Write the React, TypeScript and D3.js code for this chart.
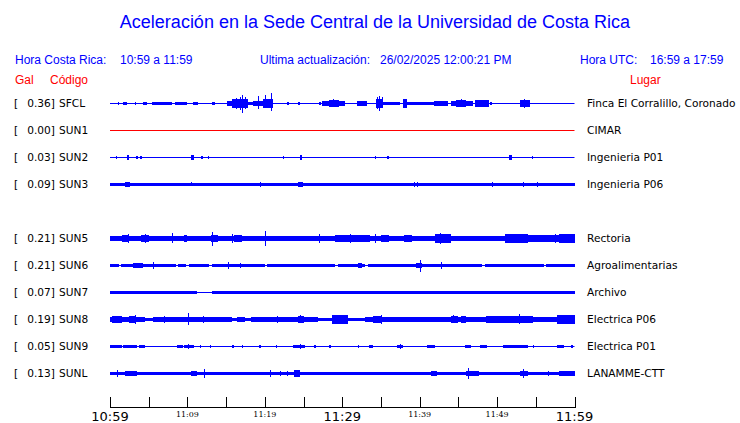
import React from "react";
import * as d3 from "d3";

const W = 740;
const H = 423;

const codes = ["SFCL", "SUN1", "SUN2", "SUN3", "SUN5", "SUN6", "SUN7", "SUN8", "SUN9", "SUNL"];
const peakGal = [0.36, 0.0, 0.03, 0.09, 0.21, 0.21, 0.07, 0.19, 0.05, 0.13];
const places = [
  "Finca El Corralillo, Coronado",
  "CIMAR",
  "Ingenieria P01",
  "Ingenieria P06",
  "Rectoria",
  "Agroalimentarias",
  "Archivo",
  "Electrica P06",
  "Electrica P01",
  "LANAMME-CTT",
];
const rowSlot = [0, 1, 2, 3, 5, 6, 7, 8, 9, 10];
const traceColor = ["blue", "red", "blue", "blue", "blue", "blue", "blue", "blue", "blue", "blue"];

// envelope pieces: [startMinute, endMinute, halfAmplitude]
const segSFCL = [
  [1.0, 1.2, 1.5], [1.7, 2.2, 1.5], [3.2, 3.4, 1.2], [4.3, 4.8, 1.2], [5.4, 8.0, 1.5], [6.5, 7.2, 2],
  [8.4, 10.0, 2], [10.7, 11.4, 1.5], [13.2, 13.6, 1.2], [14.2, 14.4, 1], [15.1, 15.8, 3], [15.8, 17.8, 5],
  [17.8, 18.5, 2], [18.5, 19.7, 3], [19.7, 21.0, 4.5], [22.9, 23.1, 1.2], [24.3, 24.5, 1.2], [27.0, 27.2, 1.2],
  [27.4, 28.3, 2.5], [28.3, 29.6, 3.5], [29.6, 30.4, 3], [31.9, 33.2, 3], [33.6, 33.8, 1], [34.3, 35.3, 5],
  [35.3, 37.5, 2], [37.8, 38.4, 4.5], [38.4, 41.8, 2], [41.8, 43.6, 3], [44.0, 44.7, 2.5], [44.7, 46.0, 4],
  [46.0, 46.9, 2.5], [47.2, 48.9, 4], [49.1, 49.3, 1.5], [53.0, 54.3, 4], [55.0, 55.2, 1], [56.9, 57.1, 1],
  [57.5, 57.7, 1], [58.2, 58.4, 1],
];
const segSUN1: number[][] = [];
const segSUN2 = [
  [0.8, 0.9, 1.5], [2.2, 2.5, 2.5], [3.4, 3.6, 1.5], [3.9, 4.1, 1.5], [10.5, 10.8, 2.5], [11.8, 12.0, 1.5],
  [12.6, 12.8, 1.5], [22.3, 22.5, 1.5], [24.5, 24.8, 2.5], [34.2, 34.4, 1.5], [35.8, 36.0, 1.5],
  [51.5, 51.9, 2.5], [54.5, 54.7, 1.5],
];
const segSUN3 = [[0, 60, 1.8], [2.0, 2.6, 2.3], [24.3, 24.9, 2.4]];
const segSUN5 = [
  [0, 8, 3.3], [8, 13, 2.7], [13, 14, 4], [14, 20, 3.3], [20, 29, 2.7], [29, 33.6, 4], [33.6, 42, 3.3],
  [42, 44, 4.5], [44, 51, 3], [51, 54, 4.5], [54, 58, 3.5], [58, 60, 4.5],
  [1.5, 2.5, 4], [4, 5, 4], [9.5, 10, 3.5], [16, 17, 4], [23, 24, 3.3], [26, 27, 3.3], [35, 36, 4], [38, 39, 4],
];
const segSUN6 = [
  [0, 1.2, 1.2], [1.4, 3, 1.2], [3, 4.3, 2.5], [4.3, 8.5, 1.2], [8.8, 9.8, 1.2], [10.2, 12.8, 1.2],
  [13.2, 20, 1.3], [20.3, 29, 1.2], [29.4, 33, 1.3], [32, 32.6, 2.5], [33.3, 39.5, 1.3], [39.5, 40.3, 2.5],
  [40.3, 48, 1.3], [48.4, 56, 1.3], [56.3, 60, 1.5], [58.5, 60, 2],
];
const segSUN7 = [[0, 11.2, 1.2], [13.2, 60, 1.2]];
const segSUN8 = [
  [0, 4.5, 3], [4.5, 5.6, 1.2], [5.6, 10, 2.5], [10, 15.8, 3], [15.8, 16.4, 1.5], [16.4, 17.4, 2.7],
  [17.4, 18.2, 1.5], [18.2, 26.9, 2.7], [26.9, 28.7, 1.5], [28.7, 30.8, 4.5], [30.8, 33, 1.5], [33, 38.4, 3],
  [38.4, 45.3, 2.5], [45.3, 46, 3.5], [46, 48.6, 2.5], [48.6, 54.7, 3.5], [54.7, 57.7, 2.5], [57.7, 60, 4.5],
  [0.3, 1.5, 3.7], [2.5, 3.3, 3.7], [9, 10.3, 3.3], [21, 22, 3.3], [24.3, 25, 3.7], [34, 35, 3.7], [44, 45, 3.5],
];
const segSUN9 = [
  [0, 1.5, 1.5], [1.7, 3.5, 1.5], [3.7, 4.5, 1.5], [8.7, 9.4, 1.5], [9.5, 10.8, 1.8], [11.6, 11.8, 1.5],
  [12.9, 13.1, 1.5], [15.8, 16, 1.5], [17, 17.2, 1.5], [19.3, 19.5, 1.5], [21.4, 21.6, 1.5], [23.7, 25.2, 2],
  [26.4, 26.6, 1.5], [28.3, 28.5, 1.5], [32, 32.2, 1.5], [33.5, 34, 1.5], [37.1, 37.9, 2], [41, 42, 1.5],
  [45.8, 46.6, 1.5], [47.8, 48.7, 2], [50.8, 54, 1.5], [54.6, 54.8, 1.5], [57.8, 58.6, 1.5], [59.6, 59.8, 1.5],
];
const segSUNL = [
  [0, 60, 2], [2, 3.5, 2.8], [10.5, 11.2, 2.8], [23.8, 24.5, 3.5], [41.5, 42.2, 2.8], [46, 47.5, 2.8],
  [53, 54, 2.8], [58, 60, 2.5],
];

// spikes: [minute, up, down]
const spkSFCL = [
  [16.3, 6, 6], [16.8, 7, 7], [17.1, 9, 10], [17.5, 7, 6], [19.1, 8, 6], [20.0, 9, 5], [20.8, 12, 8],
  [28.8, 5, 4], [34.5, 7, 6], [34.7, 8, 8], [35.1, 7, 5], [37.9, 5, 5], [45.3, 5, 4], [53.5, 5, 5],
];
const spkSUN1: number[][] = [];
const spkSUN2: number[][] = [];
const spkSUN3 = [
  [2.3, 3, 3], [10.5, 2.5, 2], [11.8, 2.2, 2], [19.4, 2.3, 2.3], [21.5, 2.2, 2], [24.6, 3.2, 3.2],
  [39.3, 3, 2.5], [39.6, 2.8, 2.8], [49.4, 2.6, 2.6], [53.3, 3, 2.5], [55.2, 2.6, 2.4],
];
const spkSUN5 = [
  [2.3, 5, 5], [4.5, 4.5, 4.5], [8.0, 6, 5], [13.2, 7, 8], [15.8, 5, 4.5], [20.0, 8, 8], [27.0, 4.5, 4.5],
  [31.0, 5, 5], [34.2, 4.5, 4.5], [42.6, 6, 6], [43.0, 5, 5], [51.0, 5, 4.5], [53.0, 5.5, 5], [57.5, 5, 5],
  [59.0, 5.5, 5.5],
];
const spkSUN6 = [
  [3.9, 3, 3], [5.6, 4, 4], [15.2, 4, 4], [16.8, 2.5, 2.5], [24, 2, 2], [31, 2, 2], [40.0, 6, 7],
  [42.7, 4, 4], [50, 2, 2],
];
const spkSUN7 = [
  [0.9, 2, 2], [1.8, 2, 2], [2.8, 1.8, 1.8], [6, 1.8, 1.8], [10, 1.8, 1.8], [16, 2, 2], [20, 1.8, 1.8],
  [23.5, 2, 2], [28, 1.8, 1.8], [34.5, 2, 2], [40, 1.8, 1.8], [43, 2, 2], [47, 1.8, 1.8], [51, 2, 2],
  [55, 2, 2], [58.5, 1.8, 1.8],
];
const spkSUN8 = [
  [3.2, 5, 5], [7, 4, 3.5], [10.1, 6.7, 6], [12, 4, 4], [21.6, 4, 4], [24.6, 4.5, 4], [29.5, 5, 5],
  [35, 4.5, 4.5], [44.3, 4.5, 4], [52.8, 6, 5], [58.5, 5, 5],
];
const spkSUN9 = [[10.1, 2.8, 2.8], [24.5, 2.5, 2.5], [37.5, 2.5, 2.5]];
const spkSUNL = [
  [0.9, 3.5, 3.5], [2.3, 3, 3], [3.3, 3, 3], [10.8, 3, 3], [12.2, 5, 5], [20.7, 3.5, 3.5], [21.9, 3, 3],
  [22.9, 2.8, 2.8], [24.1, 4, 4], [41.8, 3, 3], [46.2, 6, 6], [47.5, 3, 3], [53.4, 5, 5], [56.6, 3, 3],
];

const segments = [segSFCL, segSUN1, segSUN2, segSUN3, segSUN5, segSUN6, segSUN7, segSUN8, segSUN9, segSUNL];
const spikes = [spkSFCL, spkSUN1, spkSUN2, spkSUN3, spkSUN5, spkSUN6, spkSUN7, spkSUN8, spkSUN9, spkSUNL];

const tickMinutes = d3.range(0, 61, 5);
const majorLabels = ["10:59", "11:09", "11:19", "11:29", "11:39", "11:49", "11:59"];
const bigLabels = ["10:59", "11:29", "11:59"];

export default function App() {
  const x = d3.scaleLinear().domain([0, 60]).range([110, 574.5]);
  const y = d3.scaleLinear().domain([0, 10]).range([103, 373]);
  const amp = d3.scaleLinear().domain([0, 10]).range([0, 9]);
  const sans = "'Liberation Sans', Arial, sans-serif";
  const dv = "'DejaVu Sans', sans-serif";

  return (
    <svg width={W} height={H} style={{ position: "absolute", left: 0, top: 0, background: "white" }}>
      <text x={375} y={28} textAnchor="middle" fill="#0000ff" fontFamily={sans} fontSize={18}>
        Aceleración en la Sede Central de la Universidad de Costa Rica
      </text>
      <g fill="#0000ff" fontFamily={sans} fontSize={12}>
        <text x={15} y={64}>Hora Costa Rica:</text>
        <text x={120} y={64}>10:59 a 11:59</text>
        <text x={260} y={64}>Ultima actualización:</text>
        <text x={380} y={64}>26/02/2025 12:00:21 PM</text>
        <text x={580} y={64}>Hora UTC:</text>
        <text x={650} y={64}>16:59 a 17:59</text>
      </g>
      <g fill="#ff0000" fontFamily={sans} fontSize={12}>
        <text x={15} y={84}>Gal</text>
        <text x={50} y={84}>Código</text>
        <text x={630} y={84}>Lugar</text>
      </g>

      {codes.map((c, i) => {
        const cy = Math.round(y(rowSlot[i]));
        const col = traceColor[i];
        return (
          <g key={c}>
            <g fontFamily={dv} fontSize={10.6} fill="black" dominantBaseline="central">
              <text x={14} y={cy}>[</text>
              <text x={55} y={cy} textAnchor="end">{peakGal[i].toFixed(2) + "]"}</text>
              <text x={59} y={cy}>{c}</text>
              <text x={587} y={cy}>{places[i]}</text>
            </g>
            <line x1={x(0)} x2={x(60)} y1={cy + 0.5} y2={cy + 0.5} stroke={col} strokeWidth={1} />
            <g fill={col} shapeRendering="crispEdges">
              {segments[i].map((s, k) => (
                <rect
                  key={k}
                  x={x(s[0])}
                  width={Math.max(1, x(s[1]) - x(s[0]))}
                  y={cy + 0.5 - amp(s[2])}
                  height={2 * amp(s[2])}
                />
              ))}
            </g>
            <g stroke={col} strokeWidth={1} shapeRendering="crispEdges">
              {spikes[i].map((s, k) => (
                <line key={k} x1={Math.round(x(s[0])) + 0.5} x2={Math.round(x(s[0])) + 0.5} y1={cy + 0.5 - amp(s[1])} y2={cy + 0.5 + amp(s[2])} />
              ))}
            </g>
          </g>
        );
      })}

      <g stroke="black" strokeWidth={1} shapeRendering="crispEdges">
        <line x1={x(0)} x2={x(60)} y1={407.5} y2={407.5} />
        {tickMinutes.map((m) => (
          <line key={m} x1={Math.round(x(m)) + 0.5} x2={Math.round(x(m)) + 0.5} y1={397} y2={408} />
        ))}
      </g>
      {majorLabels.map((l, k) => {
        const big = bigLabels.includes(l);
        return (
          <text
            key={l}
            x={x(k * 10)}
            y={big ? 421 : 417}
            textAnchor="middle"
            fontFamily={big ? dv : "'DejaVu Serif', serif"}
            fontSize={big ? 13 : 8}
            fill="black"
          >
            {l}
          </text>
        );
      })}
    </svg>
  );
}
